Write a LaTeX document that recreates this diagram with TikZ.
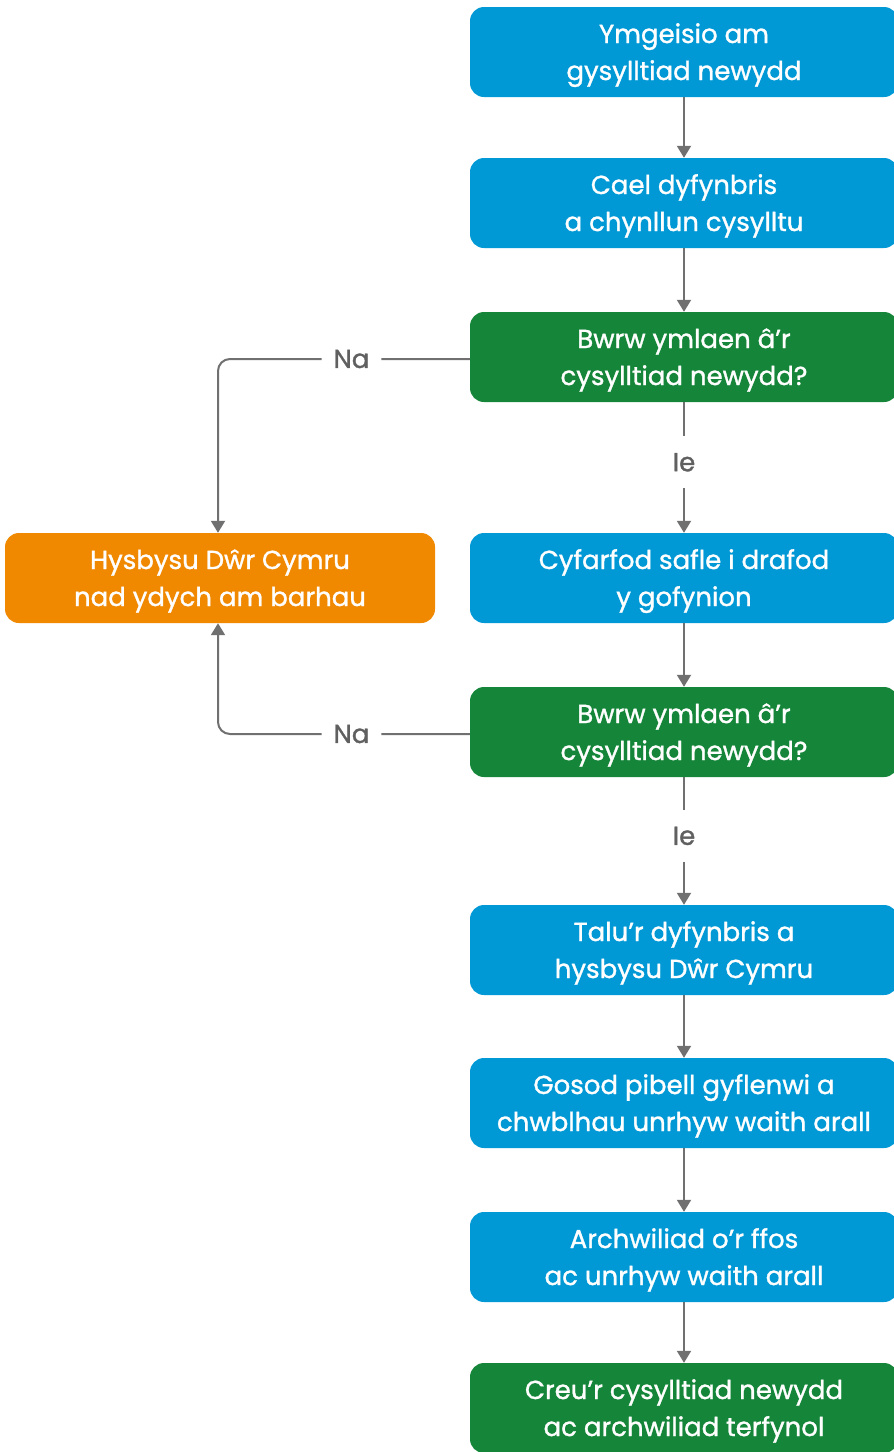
\documentclass[tikz,border=0pt]{standalone}
\usepackage{fontspec}
\setmainfont{Poppins}[FakeBold=1.2]
\usetikzlibrary{arrows.meta}
\definecolor{dcblue}{RGB}{0,153,214}
\definecolor{dcgreen}{RGB}{21,134,57}
\definecolor{dcorange}{RGB}{240,136,0}
\definecolor{linegray}{RGB}{112,112,112}
\definecolor{labelgray}{RGB}{96,96,96}
\begin{document}
\begin{tikzpicture}[x=1pt, y=-1pt,
    box/.style={rounded corners=14pt, minimum width=428pt, minimum height=90pt,
        inner sep=0pt, align=center, text=white, text height=64pt, text depth=8pt,
        font=\fontsize{26}{37}\selectfont},
    stepbox/.style={box, fill=dcblue},
    askbox/.style={box, fill=dcgreen},
    stopbox/.style={box, fill=dcorange},
    flow/.style={draw=linegray, line width=2pt,
        -{Triangle[length=12pt, width=14pt]}},
    answer/.style={fill=white, text=labelgray, inner xsep=12pt, inner ysep=17pt,
        font=\fontsize{26}{37}\selectfont}]
    \useasboundingbox (0,0) rectangle (894,1452);
    % main column
    \node [stepbox] (apply) at (684,52) {Ymgeisio am\\gysylltiad newydd};
    \node [stepbox] (quote) at (684,203) {Cael dyfynbris\\a chynllun cysylltu};
    \node [askbox] (decide1) at (684,357) {Bwrw ymlaen â’r\\cysylltiad newydd?};
    \node [stepbox] (sitemeet) at (684,578) {Cyfarfod safle i drafod\\y gofynion};
    \node [askbox] (decide2) at (684,732) {Bwrw ymlaen â’r\\cysylltiad newydd?};
    \node [stepbox] (pay) at (684,950) {Talu’r dyfynbris a\\hysbysu Dŵr Cymru};
    \node [stepbox] (laypipe) at (684,1103) {Gosod pibell gyflenwi a\\chwblhau unrhyw waith arall};
    \node [stepbox] (inspect) at (684,1257) {Archwiliad o’r ffos\\ac unrhyw waith arall};
    \node [askbox] (connect) at (684,1408) {Creu’r cysylltiad newydd\\ac archwiliad terfynol};
    % side box
    \node [stopbox, minimum width=430pt] (notify) at (220,578) {Hysbysu Dŵr Cymru\\nad ydych am barhau};
    % arrows
    \draw [flow] (apply) -- (quote);
    \draw [flow] (quote) -- (decide1);
    \draw [flow] (decide1) -- node[answer, pos=0.46] {Ie} (sitemeet);
    \draw [flow] (sitemeet) -- (decide2);
    \draw [flow] (decide2) -- node[answer, pos=0.46] {Ie} (pay);
    \draw [flow] (pay) -- (laypipe);
    \draw [flow] (laypipe) -- (inspect);
    \draw [flow] (inspect) -- (connect);
    \draw [flow, rounded corners=12pt] ([yshift=-2pt]decide1.west) -| node[answer, pos=0.235] {Na} ([xshift=-2pt]notify.north);
    \draw [flow, rounded corners=12pt] ([yshift=-2pt]decide2.west) -| node[answer, pos=0.235] {Na} ([xshift=-2pt]notify.south);
\end{tikzpicture}
\end{document}
